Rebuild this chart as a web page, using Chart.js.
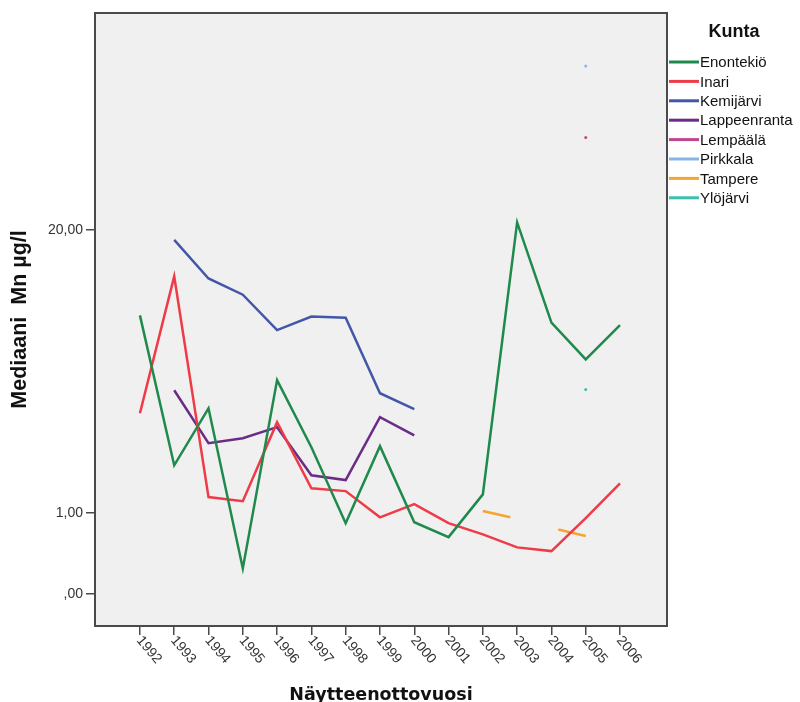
<!DOCTYPE html>
<html>
<head>
<meta charset="utf-8">
<script src="https://cdn.jsdelivr.net/npm/chart.js@4/dist/chart.umd.min.js"></script>
<style>
  body { margin: 0; background: #fff; }
  #wrap { width: 800px; height: 702px; }
</style>
</head>
<body>
<div id="wrap"><canvas id="myChart" width="800" height="702"></canvas></div>
<script>
// data (µg/l, axis is a square-root scale)
const years = [1992, 1993, 1994, 1995, 1996, 1997, 1998, 1999, 2000, 2001, 2002, 2003, 2004, 2005, 2006];
const enontekio = [11.7, 2.5, 5.2, 0.10, 6.9, 3.25, 0.76, 3.3, 0.78, 0.49, 1.5, 20.8, 11.1, 8.3, 10.9];
const inari = [4.93, 15.2, 1.42, 1.30, 4.45, 1.69, 1.6, 0.89, 1.22, 0.76, 0.54, 0.33, 0.28, 0.87, 1.85];
const kemijarvi = [null, 18.9, 15.0, 13.5, 10.5, 11.6, 11.5, 6.08, 5.15, null, null, null, null, null, null];
const lappeenranta = [null, 6.26, 3.43, 3.66, 4.2, 2.13, 1.96, 4.72, 3.8, null, null, null, null, null, null];
const lempaala = [null, null, null, null, null, null, null, null, null, null, null, null, null, 31.4, null];
const pirkkala = [null, null, null, null, null, null, null, null, null, null, null, null, null, 42.0, null];
const ylojarvi = [null, null, null, null, null, null, null, null, null, null, null, null, null, 6.3, null];
// Tampere is drawn as two short pieces
const tampereYears = [2002, 2002.8, 2003.5, 2004.2, 2005];
const tampere = [1.04, 0.89, null, 0.63, 0.51];

const yTickValues = [0, 1, 20];
const yTickLabels = [",00", "1,00", "20,00"];

const kunnat = ["Enontekiö", "Inari", "Kemijärvi", "Lappeenranta", "Lempäälä", "Pirkkala", "Tampere", "Ylöjärvi"];
const colors = ["#1f8a4c", "#ee3b47", "#4257a8", "#6b2c86", "#c2448c", "#86b4e4", "#f7a330", "#3cbfb0"];

const toPoints = (xs, vals) => xs.map((x, i) => ({ x: x, y: vals[i] === null ? null : Math.sqrt(vals[i]) }));

const series = [
  toPoints(years, enontekio),
  toPoints(years, inari),
  toPoints(years, kemijarvi),
  toPoints(years, lappeenranta),
  toPoints(years, lempaala),
  toPoints(years, pirkkala),
  toPoints(tampereYears, tampere),
  toPoints(years, ylojarvi)
];

const datasets = series.map((pts, i) => {
  const single = pts.filter(p => p.y !== null).length === 1;
  return {
    label: kunnat[i],
    data: pts,
    borderColor: colors[i],
    backgroundColor: colors[i],
    borderWidth: 2.5,
    pointRadius: single ? 1.5 : 0,
    pointBorderWidth: 0,
    spanGaps: false,
    tension: 0
  };
});

const frame = {
  id: "frame",
  beforeDatasetsDraw(chart) {
    const { ctx, chartArea: a } = chart;
    ctx.save();
    ctx.fillStyle = "#f0f0f0";
    ctx.fillRect(a.left, a.top, a.right - a.left, a.bottom - a.top);
    ctx.restore();
  },
  afterDraw(chart) {
    const { ctx, chartArea: a } = chart;
    const xs = chart.scales.x;
    ctx.save();
    ctx.strokeStyle = "#4a4a4a";
    ctx.lineWidth = 2;
    ctx.strokeRect(a.left, a.top, a.right - a.left, a.bottom - a.top);

    // rotated year labels
    ctx.fillStyle = "#333";
    ctx.font = "14px 'Liberation Sans', Arial, sans-serif";
    ctx.textAlign = "left";
    ctx.textBaseline = "middle";
    years.forEach(y => {
      const px = xs.getPixelForValue(y);
      ctx.save();
      ctx.translate(px - 1, a.bottom + 12);
      ctx.rotate(50 * Math.PI / 180);
      ctx.fillText(String(y), 0, 0);
      ctx.restore();
    });

    // legend
    ctx.fillStyle = "#111";
    ctx.font = "bold 18px 'Liberation Sans', Arial, sans-serif";
    ctx.textAlign = "center";
    ctx.fillText("Kunta", 734, 32);
    ctx.font = "15px 'Liberation Sans', Arial, sans-serif";
    ctx.textAlign = "left";
    kunnat.forEach((k, i) => {
      const y = 62 + i * 19.4;
      ctx.strokeStyle = colors[i];
      ctx.lineWidth = 3;
      ctx.beginPath();
      ctx.moveTo(669, y);
      ctx.lineTo(699, y);
      ctx.stroke();
      ctx.fillStyle = "#111";
      ctx.fillText(k, 700, y + 1);
    });
    ctx.restore();
  }
};

const ctx = document.getElementById("myChart").getContext("2d");
const chart = new Chart(ctx, {
  type: "line",
  data: { datasets: datasets },
  options: {
    responsive: false,
    animation: false,
    layout: { padding: { top: 13, right: 133, left: 0, bottom: 0 } },
    plugins: { legend: { display: false }, tooltip: { enabled: false } },
    scales: {
      x: {
        type: "linear",
        min: 1990.69,
        max: 2007.37,
        afterBuildTicks: s => { s.ticks = years.map(v => ({ value: v })); },
        afterFit: s => { s.height = 76; },
        ticks: { display: false },
        grid: { drawOnChartArea: false, drawTicks: true, tickLength: 9, color: "#4a4a4a", lineWidth: 1.5 },
        border: { display: false },
        title: {
          display: true,
          text: "Näytteenottovuosi",
          color: "#111",
          font: { family: "'DejaVu Sans', sans-serif", size: 17.5, weight: "bold" },
          padding: { top: 0, bottom: -4 }
        }
      },
      y: {
        type: "linear",
        min: -0.39,
        max: 7.13,
        afterBuildTicks: s => { s.ticks = yTickValues.map(v => ({ value: Math.sqrt(v) })); },
        afterFit: s => { s.width = 95; },
        ticks: {
          color: "#333",
          font: { family: "'Liberation Sans', Arial, sans-serif", size: 14 },
          padding: 3,
          callback: (v, i) => yTickLabels[i]
        },
        grid: { drawOnChartArea: false, drawTicks: true, tickLength: 9, color: "#4a4a4a", lineWidth: 1.5 },
        border: { display: false },
        title: {
          display: true,
          text: "Mediaani  Mn µg/l",
          color: "#111",
          font: { family: "'Liberation Sans', Arial, sans-serif", size: 21.5, weight: "bold" },
          padding: { top: 7, bottom: 0 }
        }
      }
    }
  },
  plugins: [frame]
});
</script>
</body>
</html>
